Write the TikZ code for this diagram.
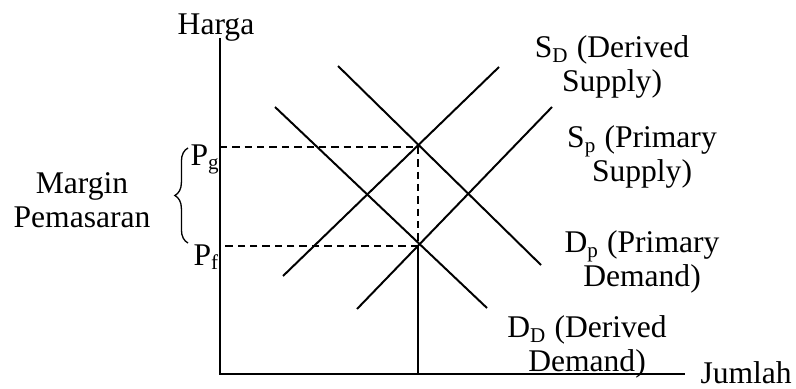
\documentclass[tikz,border=0pt]{standalone}
\usepackage{fontspec}
\setmainfont{Liberation Serif}
\usetikzlibrary{decorations.pathreplacing}

\begin{document}
\begin{tikzpicture}[x=0.38pt, y=-0.38pt,
    curve/.style={line width=0.75pt},
    guide/.style={line width=0.75pt, dash pattern=on 2.8pt off 1.9pt},
    lbl/.style={inner sep=0pt, align=center, font=\fontsize{12}{12.9}\selectfont}]
    \useasboundingbox (0,0) rectangle (796,388);

    % Axes
    \coordinate (ytop) at (220,38);
    \coordinate (origin) at (220,374);
    \coordinate (xend) at (685,374);
    \draw[curve] (ytop) -- (origin) -- (xend);
    \node[lbl, anchor=base] (harga) at (216,35) {Harga};
    \node[lbl, anchor=base west] (jumlah) at (700,383) {Jumlah};

    % Demand curves
    \coordinate (dd1) at (275,107);
    \coordinate (dd2) at (487,308);
    \draw[curve] (dd1) -- (dd2);
    \coordinate (dp1) at (338,66);
    \coordinate (dp2) at (541,265);
    \draw[curve] (dp1) -- (dp2);

    % Supply curves
    \coordinate (sd1) at (283,276);
    \coordinate (sd2) at (499,67);
    \draw[curve] (sd1) -- (sd2);
    \coordinate (sp1) at (357,309);
    \coordinate (sp2) at (552,107);
    \draw[curve] (sp1) -- (sp2);

    % Equilibrium points and guides
    \coordinate (eg) at (418,147);
    \coordinate (ef) at (418,246);
    \coordinate (qf) at (418,374);
    \coordinate (pg) at (220,147);
    \coordinate (pf) at (220,246);
    \draw[guide] (pg) -- (eg) -- (ef) -- (pf);
    \draw[curve] (ef) -- (qf);

    % Price labels
    \node[lbl, anchor=base west] (pglabel) at (190,165) {P\textsubscript{g}};
    \node[lbl, anchor=base west] (pflabel) at (193,265) {P\textsubscript{f}};

    % Marketing margin
    \coordinate (brbot) at (188,243);
    \coordinate (brtop) at (188,148);
    \draw[decorate, decoration={brace, amplitude=5pt}, line width=0.5pt] (brbot) -- (brtop);
    \node[lbl, anchor=north] (margin) at (82,172) {Margin\\Pemasaran};

    % Curve labels
    \node[lbl, anchor=north] (sdlabel) at (612,35) {S\textsubscript{D} (Derived\\Supply)};
    \node[lbl, anchor=north] (splabel) at (642,125) {S\textsubscript{p} (Primary\\Supply)};
    \node[lbl, anchor=north] (dplabel) at (642,230) {D\textsubscript{p} (Primary\\Demand)};
    \node[lbl, anchor=north] (ddlabel) at (587,315) {D\textsubscript{D} (Derived\\Demand)};
\end{tikzpicture}
\end{document}
